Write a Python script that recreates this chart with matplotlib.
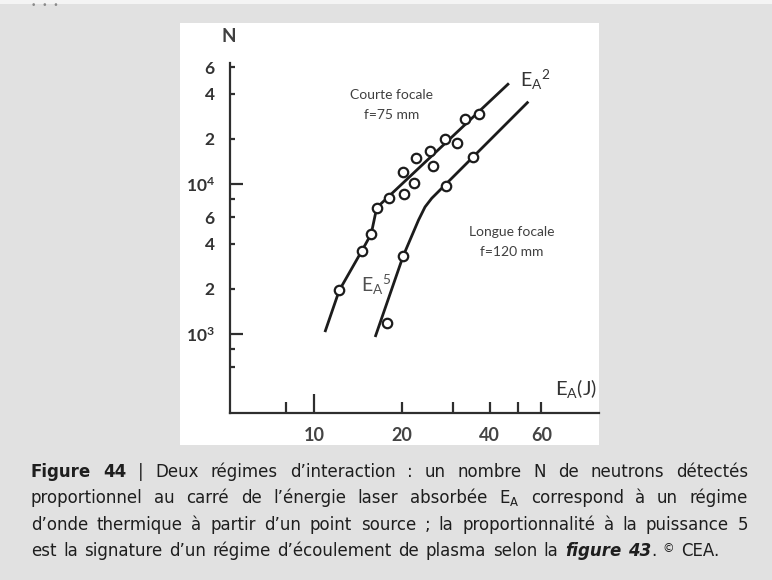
import matplotlib
matplotlib.use('Agg')
import matplotlib.pyplot as plt
from matplotlib import font_manager
from matplotlib.patches import Rectangle
from matplotlib.ticker import FixedLocator, FixedFormatter

# values: E_A in joules, N neutrons detected
courte_ea = [12.2, 14.6, 15.7, 16.4, 18.1, 20.3, 20.2, 22.0, 22.4, 25.0, 25.5, 28.1, 31.0, 32.9, 36.7]
courte_n = [1950, 3600, 4650, 6950, 8050, 8600, 12100, 10150, 15000, 16700, 13100, 19800, 18900, 27000, 29500]
longue_ea = [17.8, 20.2, 28.4, 35.1]
longue_n = [1180, 3310, 9730, 15070]

# hand drawn trend lines (E_A^5 part, then E_A^2 part)
courte_fit_ea = [10.9, 12.2, 14.6, 15.7, 16.4, 46.5]
courte_fit_n = [1030, 1950, 3600, 4650, 6950, 46900]
longue_fit_ea = [16.2, 20.2, 22.8, 24.0, 25.3, 54.2]
longue_fit_n = [955, 3310, 5750, 7030, 8030, 35400]

x_major = [10]
x_minor = [8, 20, 30, 40, 50, 60]
x_minor_labels = ['', '20', '', '40', '', '60']
y_major = [1e3, 1e4]
y_major_labels = [r'$\mathregular{10^3}$', r'$\mathregular{10^4}$']
y_minor = [6e2, 8e2, 2e3, 4e3, 6e3, 8e3, 2e4, 4e4, 6e4]
y_minor_labels = ['', '', '2', '4', '6', '', '2', '4', '6']


def pick_font(names):
    for n in names:
        try:
            font_manager.findfont(font_manager.FontProperties(family=n), fallback_to_default=False)
            return n
        except Exception:
            pass
    return 'DejaVu Sans'


chart_font = pick_font(['Lato', 'Open Sans', 'DejaVu Sans'])
cap_font = pick_font(['DejaVu Sans'])

W, H = 772, 580
fig = plt.figure(figsize=(W / 100, H / 100), dpi=100)
fig.patch.set_facecolor('#e1e1e1')


def fx(x):
    return x / W


def fy(y):
    return 1 - y / H


# top strip and the three dots
fig.patches.append(Rectangle((0, fy(4)), 1, 4 / H, transform=fig.transFigure,
                             facecolor='#f4f4f4', edgecolor='none', zorder=0))
fig.text(fx(45), fy(6), '•  •  •', ha='center', va='center', fontsize=6.5, color='#8a8a8a')

# white panel behind the chart
panel = Rectangle((fx(180), fy(445)), 419 / W, 422 / H, transform=fig.transFigure,
                  facecolor='white', edgecolor='none', zorder=0)
fig.patches.append(panel)

ax = fig.add_axes([fx(230), fy(413), (599 - 230) / W, (413 - 63) / H])
ax.set_zorder(1)
ax.set_facecolor('none')
ax.set_xscale('log')
ax.set_yscale('log')
ax.set_xlim(5.157, 94.6)
ax.set_ylim(297.4, 64070)

ink = '#1c1c1c'
ax.plot(courte_fit_ea, courte_fit_n, color=ink, lw=2.0, solid_capstyle='butt', zorder=2)
ax.plot(longue_fit_ea, longue_fit_n, color=ink, lw=2.0, solid_capstyle='butt', zorder=2)
ax.plot(courte_ea, courte_n, 'o', ms=6.8, mfc='white', mec=ink, mew=1.6, zorder=3)
ax.plot(longue_ea, longue_n, 'o', ms=6.8, mfc='white', mec=ink, mew=1.6, zorder=3)

for s in ['top', 'right']:
    ax.spines[s].set_visible(False)
for s in ['left', 'bottom']:
    ax.spines[s].set_color('#2e2e2e')
    ax.spines[s].set_linewidth(1.6)

ax.xaxis.set_major_locator(FixedLocator(x_major))
ax.xaxis.set_major_formatter(FixedFormatter(['10']))
ax.xaxis.set_minor_locator(FixedLocator(x_minor))
ax.xaxis.set_minor_formatter(FixedFormatter(x_minor_labels))
ax.yaxis.set_major_locator(FixedLocator(y_major))
ax.yaxis.set_major_formatter(FixedFormatter(y_major_labels))
ax.yaxis.set_minor_locator(FixedLocator(y_minor))
ax.yaxis.set_minor_formatter(FixedFormatter(y_minor_labels))

ax.tick_params(axis='both', which='both', direction='in', color='#2e2e2e', width=1.6,
               labelcolor='#333333')
ax.tick_params(axis='x', which='major', length=14, pad=10, labelsize=13, labelcolor='#444444')
ax.tick_params(axis='x', which='minor', length=8, pad=10, labelsize=13, labelcolor='#444444')
ax.tick_params(axis='y', which='major', length=9.5, pad=11, labelsize=12.5)
ax.tick_params(axis='y', which='minor', length=3.6, pad=11, labelsize=12.5)
for lab in ax.get_xticklabels(which='both') + ax.get_yticklabels(which='both'):
    lab.set_fontfamily(chart_font)
    lab.set_fontweight('bold')

txt = dict(family=chart_font, color='#404040', ha='center', va='center')
fig.text(fx(229), fy(37), 'N', fontsize=13.5, weight='bold', **txt)
fig.text(fx(392), fy(95), 'Courte focale', fontsize=10, **txt)
fig.text(fx(392), fy(115), 'f=75 mm', fontsize=10, **txt)
fig.text(fx(512), fy(232), 'Longue focale', fontsize=10, **txt)
fig.text(fx(512), fy(252), 'f=120 mm', fontsize=10, **txt)
fig.text(fx(520), fy(80), r'$\mathregular{E_A{}^2}$', fontsize=14, family=chart_font,
         color='#333333', ha='left', va='center')
fig.text(fx(361), fy(285), r'$\mathregular{E_A{}^5}$', fontsize=14, family=chart_font,
         color='#505050', ha='left', va='center')
ej = fig.text(fx(555), fy(388), r'$\mathregular{E_A(J)}$', fontsize=14.5, family=chart_font,
              color='#333333', ha='left', va='center')
ej.set_clip_path(panel)

# caption, justified word by word
cap_left, cap_right = 31, 748
N_, B_, BI_ = ('normal', 'normal'), ('bold', 'normal'), ('bold', 'italic')

cap_lines = [
    [[('Figure', B_)], [('44', B_)], [('|', N_)], [('Deux', N_)], [('régimes', N_)],
     [('d’interaction', N_)], [(':', N_)], [('un', N_)], [('nombre', N_)], [('N', N_)],
     [('de', N_)], [('neutrons', N_)], [('détectés', N_)]],
    [[(w, N_)] for w in 'proportionnel au carré de l’énergie laser absorbée'.split()]
    + [[(r'$\mathregular{E_A}$', N_)]]
    + [[(w, N_)] for w in 'correspond à un régime'.split()],
    [[(w, N_)] for w in 'd’onde thermique à partir d’un point source ; la proportionnalité à la puissance 5'.split()],
    [[(w, N_)] for w in 'est la signature d’un régime d’écoulement de plasma selon la'.split()]
    + [[('figure', BI_)], [('43', BI_), ('.', N_)], [('©', N_, 0.7, 4)], [('CEA.', N_)]],
]
cap_base = [477, 503, 530, 556]

fig.canvas.draw()
r = fig.canvas.get_renderer()


def measure(s, size, wt='normal', st='normal'):
    t = fig.text(0, 0, s, fontsize=size, family=cap_font, weight=wt, style=st)
    w = t.get_window_extent(r).width
    t.remove()
    return w


# size chosen so the widest justified line fits with normal word spacing
base = 11.0
space_w = measure('a a', base) - measure('aa', base)
natural = []
for words in cap_lines[:-1]:
    tot = 0
    for word in words:
        for run in word:
            sc = run[2] if len(run) > 2 else 1.0
            tot += measure(run[0], base * sc, *run[1])
    natural.append(tot + space_w * (len(words) - 1))
cap_size = min(12.0, base * (cap_right - cap_left - 4) / max(natural))
space_w = 1.25 * (measure('a a', cap_size) - measure('aa', cap_size))

for i, (words, yb) in enumerate(zip(cap_lines, cap_base)):
    placed = []
    for word in words:
        runs = []
        for run in word:
            text, (wt, st) = run[0], run[1]
            scale = run[2] if len(run) > 2 else 1.0
            rise = run[3] if len(run) > 3 else 0
            t = fig.text(0, 0, text, fontsize=cap_size * scale, family=cap_font,
                         weight=wt, style=st, color='#1e1e1e', ha='left', va='baseline')
            runs.append((t, t.get_window_extent(r).width, rise))
        placed.append(runs)
    widths = [sum(w for _, w, _ in runs) for runs in placed]
    if i < len(cap_lines) - 1:
        gap = (cap_right - cap_left - sum(widths)) / (len(placed) - 1)
    else:
        gap = space_w
    x = cap_left
    for runs in placed:
        for t, w, rise in runs:
            t.set_position((fx(x), fy(yb - rise)))
            x += w
        x += gap

fig.savefig('out.png', dpi=100, facecolor=fig.get_facecolor())
